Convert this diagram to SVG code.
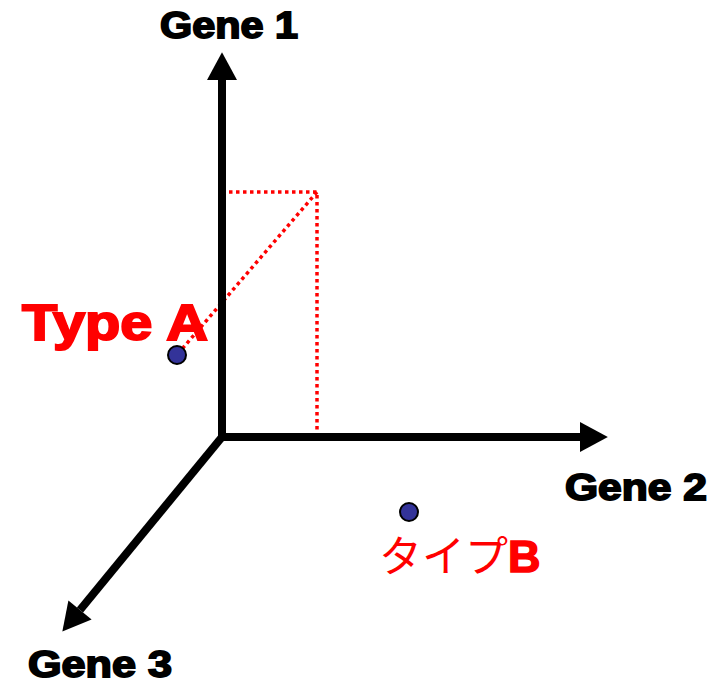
<svg xmlns="http://www.w3.org/2000/svg" width="719" height="685" viewBox="0 0 719 685">
<style>
.axis{stroke:#000;stroke-width:8;fill:none}
.dot{stroke:#f00;stroke-width:3.5;stroke-dasharray:3.5 3.5;fill:none}
.lbl{font-family:"Liberation Sans",Arial,sans-serif;font-weight:bold;font-size:36px;fill:#000;stroke:#000;stroke-width:1.8}
.pt{fill:#333399;stroke:#000;stroke-width:2}
</style>
<defs>
<marker id="ah" markerUnits="userSpaceOnUse" markerWidth="30" markerHeight="30" viewBox="0 0 26 28" refX="0" refY="14" orient="auto" overflow="visible">
<path d="M0,0 L26,14 L0,28 Z" fill="#000"/>
</marker>
</defs>
<rect width="719" height="685" fill="#fff"/>
<g id="connectors">
<path class="dot" d="M222,192 H317 V437"/>
<path class="dot" d="M317,192 L182,349"/>
<line class="axis" x1="222" y1="441" x2="222" y2="80" marker-end="url(#ah)"/>
<line class="axis" x1="218" y1="437" x2="580" y2="437" marker-end="url(#ah)"/>
<line class="axis" x1="222" y1="437" x2="80" y2="610" marker-end="url(#ah)"/>
</g>
<g id="gene1"><text class="lbl" x="160" y="38" textLength="138" lengthAdjust="spacingAndGlyphs">Gene 1</text></g>
<g id="gene2"><text class="lbl" x="565" y="500" textLength="142" lengthAdjust="spacingAndGlyphs">Gene 2</text></g>
<g id="gene3"><text class="lbl" x="28" y="677" textLength="144" lengthAdjust="spacingAndGlyphs">Gene 3</text></g>
<g id="typeA">
<circle class="pt" cx="177" cy="355" r="9"/>
<text x="22" y="340" font-family="Liberation Sans,Arial,sans-serif" font-weight="bold" font-size="50" fill="#f00" stroke="#f00" stroke-width="2" textLength="186" lengthAdjust="spacingAndGlyphs">Type A</text>
</g>
<g id="typeB">
<circle class="pt" cx="409" cy="512" r="9"/>
<text x="379" y="572" font-family="'Noto Sans CJK JP',sans-serif" font-size="43" fill="#f00">タイプ<tspan font-family="Liberation Sans,Arial,sans-serif" font-weight="bold" font-size="45" stroke="#f00" stroke-width="1.5">B</tspan></text>
</g>
</svg>
